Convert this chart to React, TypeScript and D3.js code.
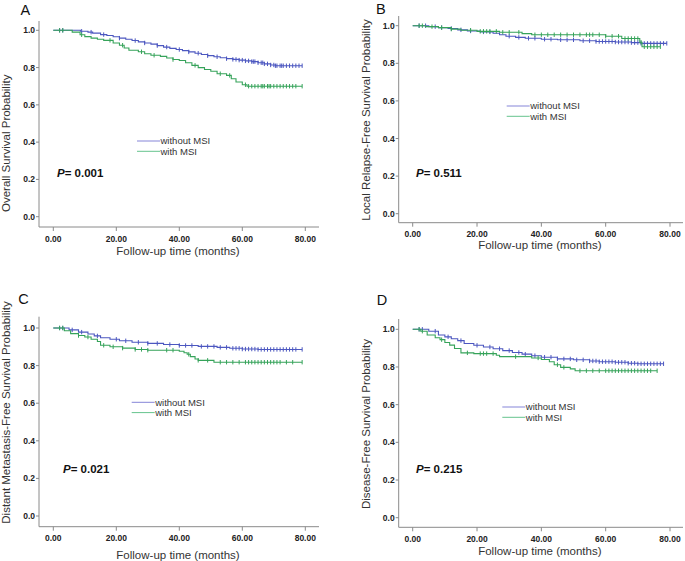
import React from 'react';
import * as d3 from 'd3';

// step points: [month, survival after the drop]
const osWithout = [[0, 1], [8.6, 0.995], [11, 0.99], [12.5, 0.985], [15, 0.977], [17, 0.972], [19, 0.965], [21, 0.958], [23, 0.952], [25, 0.945], [27, 0.938], [29, 0.932], [31, 0.926], [33, 0.918], [35, 0.91], [37, 0.903], [39, 0.897], [41, 0.891], [43, 0.884], [45, 0.877], [47, 0.87], [49, 0.864], [51, 0.858], [53, 0.853], [55, 0.848], [57, 0.844], [59, 0.84], [61, 0.836], [63, 0.832], [65, 0.826], [67, 0.82], [69, 0.814], [70.5, 0.81]];
const osWith = [[0, 1], [6, 0.99], [8.5, 0.976], [10, 0.966], [12, 0.958], [14, 0.952], [16, 0.946], [19, 0.932], [21, 0.92], [22.5, 0.905], [24, 0.893], [27, 0.885], [29, 0.874], [31, 0.866], [34, 0.86], [36, 0.851], [38, 0.843], [40, 0.838], [42, 0.826], [44, 0.812], [46, 0.8], [48, 0.79], [50, 0.78], [52, 0.767], [55, 0.758], [56.5, 0.74], [58, 0.723], [60, 0.708], [61.5, 0.7]];
const osWithoutCens = [2, 3, 9, 12, 16, 21, 26, 29, 33, 36, 40, 43, 46, 49, 52, 55, 57, 58, 59, 60, 61, 62, 63, 63.5, 64, 65, 66, 66.5, 67, 68, 69, 70, 70.5, 71, 72, 72.5, 73, 74, 75, 76, 77, 78, 79];
const osWithCens = [2, 3, 9, 18, 22, 28, 32, 38, 45, 53, 56, 61, 62, 63, 64, 65, 66, 66.5, 67, 68, 68.5, 69, 70, 71, 72, 73, 74, 75, 76, 77, 79];

const lrfsWithout = [[0, 1], [5, 0.995], [8, 0.99], [11, 0.985], [14, 0.978], [17, 0.972], [21, 0.967], [25, 0.96], [27, 0.952], [29, 0.944], [32, 0.938], [35, 0.933], [40, 0.928], [45, 0.925], [52, 0.92], [57, 0.916], [63, 0.913], [68, 0.91], [71, 0.906]];
const lrfsWith = [[0, 1], [4, 0.995], [8, 0.99], [12, 0.982], [15, 0.976], [20, 0.97], [27, 0.965], [34, 0.958], [37, 0.952], [60, 0.944], [65, 0.932], [70.6, 0.912], [71.3, 0.888]];
const lrfsWithoutCens = [2, 4, 7, 9, 12, 15, 18, 22, 24, 30, 33, 36, 38, 41, 43, 46, 48, 50, 53, 55, 57, 58, 59, 60, 61, 62, 63, 64, 65, 66, 67, 68, 69, 70, 71, 72, 73, 74, 75, 76, 77, 78, 79];
const lrfsWithCens = [2, 3, 6, 9, 12, 18, 21, 22, 23, 24, 26, 28, 30, 33, 38, 40, 42, 44, 46, 48, 50, 52, 54, 55, 56, 58, 60, 62, 64, 66, 67, 68, 69, 70, 71, 72, 73, 74, 75, 76, 77];

const dmfsWithout = [[0, 1], [5, 0.99], [8, 0.978], [11, 0.968], [13, 0.958], [15, 0.948], [18, 0.94], [21, 0.932], [25, 0.924], [30, 0.918], [35, 0.912], [40, 0.907], [46, 0.902], [52, 0.897], [56, 0.892], [60, 0.888], [65, 0.886]];
const dmfsWith = [[0, 1], [3.5, 0.985], [5.5, 0.97], [8, 0.96], [10, 0.952], [12, 0.94], [14, 0.928], [15, 0.908], [18, 0.9], [22, 0.893], [26, 0.886], [30, 0.882], [40, 0.876], [41.5, 0.868], [42.5, 0.86], [43.5, 0.848], [45, 0.835], [46, 0.828], [51, 0.818]];
const dmfsWithoutCens = [2, 3, 6, 9, 14, 20, 23, 27, 30, 33, 37, 40, 42, 44, 47, 49, 51, 53, 55, 57, 58, 59, 60, 61, 62, 63, 64, 65, 66, 67, 68, 69, 70, 71, 72, 73, 74, 75, 76, 77, 79];
const dmfsWithCens = [2, 3, 8, 11, 16, 19, 22, 26, 28, 30, 36, 38, 43, 46, 49, 53, 55, 57, 59, 61, 62, 63, 64, 65, 66, 67, 68, 69, 70, 71, 72, 74, 76, 79];

const dfsWithout = [[0, 1], [5, 0.99], [8, 0.97], [10, 0.96], [12, 0.95], [14, 0.94], [16, 0.925], [19, 0.915], [22, 0.906], [25, 0.897], [28, 0.887], [31, 0.877], [34, 0.868], [37, 0.86], [40, 0.852], [45, 0.843], [50, 0.838], [55, 0.832], [58, 0.828], [63, 0.825], [67, 0.82], [70, 0.817]];
const dfsWith = [[0, 1], [2.5, 0.99], [4.5, 0.97], [7, 0.955], [8.5, 0.945], [10, 0.93], [11.5, 0.916], [13, 0.898], [15, 0.875], [19, 0.871], [26, 0.862], [27, 0.855], [37, 0.848], [40, 0.84], [42.5, 0.828], [44, 0.812], [46, 0.798], [49, 0.79], [50.5, 0.78]];
const dfsWithoutCens = [2, 3, 7, 11, 15, 20, 24, 27, 30, 33, 35, 38, 41, 43, 45, 47, 49, 51, 53, 55, 56, 57, 58, 59, 60, 61, 62, 63, 64, 65, 66, 67, 68, 69, 70, 71, 72, 73, 74, 75, 76, 77, 78];
const dfsWithCens = [2, 3, 9, 17, 21, 22, 23, 25, 32, 39, 45, 47, 52, 54, 56, 58, 60, 61, 62, 63, 64, 65, 66, 67, 68, 69, 70, 71, 72, 73, 74, 76];

const xTicks = [0, 20, 40, 60, 80];
const yTicks = [0, 0.2, 0.4, 0.6, 0.8, 1.0];
const seriesNames = ['without MSI', 'with MSI'];

const BLUE = '#4c57c0';
const GREEN = '#36a35a';
const LEG_BLUE = '#8585d8';
const LEG_GREEN = '#66c48e';
const FONT = 'Arial, "Liberation Sans", sans-serif';

const panels = [
  {
    letter: 'A', ytitle: 'Overall Survival Probability', p: '0.001',
    without: osWithout, withMsi: osWith, withoutCens: osWithoutCens, withCens: osWithCens, endWithout: 79, endWith: 79,
    x0: 53.3, x80: 305.3, y0: 216.7, y1: 30.3, left: 39, right: 319, top: 21, bottom: 227,
    letterX: 20.5, letterY: 14.5, titleX: 9.5, titleY: 143.3, xTitleY: 255, legX: 137, legY: 141, pX: 57, pY: 176.7,
  },
  {
    letter: 'B', ytitle: 'Local Relapse-Free Survival Probability', p: '0.511',
    without: lrfsWithout, withMsi: lrfsWith, withoutCens: lrfsWithoutCens, withCens: lrfsWithCens, endWithout: 79, endWith: 77,
    x0: 412.7, x80: 670, y0: 213.7, y1: 25.7, left: 398.7, right: 683, top: 16, bottom: 222.7,
    letterX: 376, letterY: 14, titleX: 370, titleY: 120, xTitleY: 249, legX: 506.7, legY: 106, pX: 416, pY: 176.7,
  },
  {
    letter: 'C', ytitle: 'Distant Metastasis-Free Survival Probability', p: '0.021',
    without: dmfsWithout, withMsi: dmfsWith, withoutCens: dmfsWithoutCens, withCens: dmfsWithCens, endWithout: 79, endWith: 79,
    x0: 53.3, x80: 305.3, y0: 516, y1: 328, left: 39, right: 319, top: 316.7, bottom: 526.7,
    letterX: 18.3, letterY: 304, titleX: 9.5, titleY: 412.5, xTitleY: 558.5, legX: 131.7, legY: 402.3, pX: 63, pY: 473.3,
  },
  {
    letter: 'D', ytitle: 'Disease-Free Survival Probability', p: '0.215',
    without: dfsWithout, withMsi: dfsWith, withoutCens: dfsWithoutCens, withCens: dfsWithCens, endWithout: 78, endWith: 76,
    x0: 412.7, x80: 670, y0: 517.7, y1: 329.3, left: 398.7, right: 683, top: 319, bottom: 527.3,
    letterX: 376.7, letterY: 305, titleX: 370, titleY: 424, xTitleY: 555, legX: 502.3, legY: 407, pX: 416, pY: 472.7,
  },
];

const survAt = (steps, t) => {
  let s = 1;
  for (const [tt, v] of steps) if (tt <= t) s = v;
  return s;
};

const Curve = ({ steps, cens, end, x, y, color }) => {
  const pts = [...steps, [end, steps[steps.length - 1][1]]];
  const line = d3.line().x(d => x(d[0])).y(d => y(d[1])).curve(d3.curveStepAfter);
  return (
    <g>
      <path d={line(pts)} fill="none" stroke={color} strokeWidth={1.1} />
      {cens.map((t, i) => {
        const cx = x(t);
        const cy = y(survAt(steps, t));
        return <line key={i} x1={cx} x2={cx} y1={cy - 2.2} y2={cy + 2.2} stroke={color} strokeWidth={1} />;
      })}
    </g>
  );
};

const Panel = ({ p }) => {
  const x = d3.scaleLinear().domain([0, 80]).range([p.x0, p.x80]);
  const y = d3.scaleLinear().domain([0, 1]).range([p.y0, p.y1]);
  const axisColor = '#8a8a8a';
  return (
    <g fontFamily={FONT}>
      <text x={p.letterX} y={p.letterY} fontSize={14.5} fill="#111">{p.letter}</text>
      <line x1={p.left} x2={p.left} y1={p.top} y2={p.bottom} stroke={axisColor} strokeWidth={1} />
      <line x1={p.left} x2={p.right} y1={p.bottom} y2={p.bottom} stroke={axisColor} strokeWidth={1} />
      {yTicks.map(v => (
        <g key={v}>
          <line x1={p.left - 3} x2={p.left} y1={y(v)} y2={y(v)} stroke={axisColor} />
          <text x={p.left - 4} y={y(v) + 3} textAnchor="end" fontSize={8.5} fontWeight="bold" fill="#222">{d3.format('.1f')(v)}</text>
        </g>
      ))}
      {xTicks.map(v => (
        <g key={v}>
          <line x1={x(v)} x2={x(v)} y1={p.bottom} y2={p.bottom + 4} stroke={axisColor} />
          <text x={x(v)} y={p.bottom + 14.5} textAnchor="middle" fontSize={8.5} fontWeight="bold" fill="#222">{d3.format('.2f')(v)}</text>
        </g>
      ))}
      <text x={(p.left + p.right) / 2 - 1} y={p.xTitleY} textAnchor="middle" fontSize={11.5} fill="#333">Follow-up time (months)</text>
      <text transform={`translate(${p.titleX},${p.titleY}) rotate(-90)`} textAnchor="middle" fontSize={11.5} fill="#333">{p.ytitle}</text>
      <Curve steps={p.without} cens={p.withoutCens} end={p.endWithout} x={x} y={y} color={BLUE} />
      <Curve steps={p.withMsi} cens={p.withCens} end={p.endWith} x={x} y={y} color={GREEN} />
      {seriesNames.map((n, i) => (
        <g key={n}>
          <line x1={p.legX} x2={p.legX + 23} y1={p.legY + i * 10.3} y2={p.legY + i * 10.3} stroke={i === 0 ? LEG_BLUE : LEG_GREEN} strokeWidth={1} />
          <text x={p.legX + 23.5} y={p.legY + i * 10.3 + 3.3} fontSize={9.5} fill="#333">{n}</text>
        </g>
      ))}
      <text x={p.pX} y={p.pY} fontSize={11.5} fontWeight="bold" fill="#111">
        <tspan fontStyle="italic">P</tspan>= {p.p}
      </text>
    </g>
  );
};

export default function App() {
  return (
    <svg width={685} height={561} style={{ position: 'absolute', left: 0, top: 0, background: '#fff' }}>
      {panels.map(p => <Panel key={p.letter} p={p} />)}
    </svg>
  );
}
